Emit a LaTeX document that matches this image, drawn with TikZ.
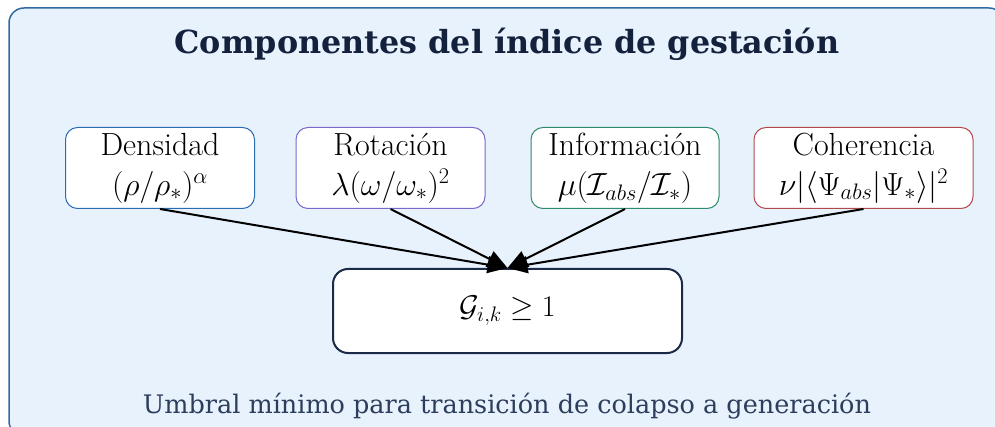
\documentclass[tikz,border=0pt]{standalone}
\usepackage{fix-cm}
\usepackage{amsmath,amssymb}
\usepackage{fontspec}
\newfontfamily\titlefont{DejaVu Serif}
\usetikzlibrary{arrows.meta}
\definecolor{bgblue}{HTML}{E8F2FD}
\definecolor{frameblue}{HTML}{2F6AA3}
\definecolor{titlenavy}{HTML}{14213D}
\definecolor{captioncol}{HTML}{2C3E5C}
\definecolor{cblue}{HTML}{2B6CB0}
\definecolor{cpurple}{HTML}{7B68C8}
\definecolor{cgreen}{HTML}{2E8B6B}
\definecolor{cred}{HTML}{B04A4A}
\definecolor{cnavy}{HTML}{1B2A47}
\tikzset{
  compbox/.style={draw, fill=white, rounded corners=12pt, line width=1pt,
    minimum height=81pt, align=center, inner sep=0pt,
    font=\fontsize{32}{36}\selectfont},
  goalbox/.style={draw=cnavy, fill=white, rounded corners=15pt, line width=2pt,
    minimum width=349pt, minimum height=84pt, inner sep=0pt,
    font=\fontsize{30}{36}\selectfont},
  feed/.style={line width=2pt, -{Triangle[length=20pt,width=17pt]}},
}
\begin{document}
\begin{tikzpicture}[x=1pt,y=-1pt]
\useasboundingbox (0,0) rectangle (995,427);
\clip (0,0) rectangle (995,427);
\draw[rounded corners=15pt, fill=bgblue, draw=frameblue, line width=1.5pt] (9,8) rectangle (1004,436);
\node[font=\titlefont\bfseries\fontsize{31.8}{36}\selectfont, text=titlenavy] (title) at (507,44) {Componentes del índice de gestación};
\node[compbox, draw=cblue, minimum width=189pt] (dens) at (160,168) {Densidad\\[4pt]$(\rho/\rho_*)^\alpha$};
\node[compbox, draw=cpurple, minimum width=189pt] (rot) at (390.5,168) {Rotación\\[4pt]$\lambda(\omega/\omega_*)^2$};
\node[compbox, draw=cgreen, minimum width=188pt] (info) at (625,168) {Información\\[4pt]$\mu(\mathcal{I}_{abs}/\mathcal{I}_*)$};
\node[compbox, draw=cred, minimum width=219pt] (coh) at (863.5,168) {Coherencia\\[4pt]$\nu|\langle\Psi_{abs}|\Psi_*\rangle|^2$};
\node[goalbox] (goal) at (507.5,311) {$\mathcal{G}_{i,k}\geq 1$};
\draw[feed] (dens.south) -- (goal.north);
\draw[feed] (rot.south) -- (goal.north);
\draw[feed] (info.south) -- (goal.north);
\draw[feed] (coh.south) -- (goal.north);
\node[font=\titlefont\fontsize{25.5}{30}\selectfont, text=captioncol] (caption) at (507,406) {Umbral mínimo para transición de colapso a generación};
\end{tikzpicture}
\end{document}
